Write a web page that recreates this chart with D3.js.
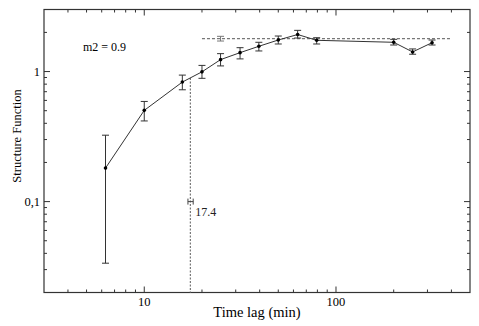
<!DOCTYPE html>
<html>
<head>
<meta charset="utf-8">
<script src="https://cdn.jsdelivr.net/npm/d3@7"></script>
<style>
  body { margin: 0; background: #fff; }
  svg { display: block; }
</style>
</head>
<body>
<div id="chart"></div>
<script>
// Structure function vs time lag (log-log)
const lags   = [6.28, 10, 15.8, 20, 25, 31.6, 39.6, 50, 63.1, 79.3, 200, 251, 317];
const sf     = [0.181, 0.503, 0.83, 0.995, 1.235, 1.397, 1.564, 1.748, 1.926, 1.739, 1.679, 1.415, 1.667];
const sfLow  = [0.0336, 0.417, 0.724, 0.887, 1.105, 1.251, 1.44, 1.629, 1.81, 1.629, 1.6, 1.359, 1.6];
const sfHigh = [0.324, 0.589, 0.939, 1.115, 1.373, 1.526, 1.679, 1.876, 2.074, 1.82, 1.769, 1.492, 1.748];

// plateau level and break point
const plateau = { x: 25, y: 1.789, lo: 1.717, hi: 1.866, from: 20, to: 400 };
const breakLag = { x: 17.4, lo: 16.9, hi: 18.0, labelY: 0.1 };
const slopeText = "m2 = 0.9";

const xTicksMajor = [10, 100];
const xTicksMinor = [4, 5, 6, 7, 8, 9, 20, 30, 40, 50, 60, 70, 80, 90, 200, 300, 400];
const yTicksMajor = [0.1, 1];
const yTicksMinor = [0.03, 0.04, 0.05, 0.06, 0.07, 0.08, 0.09, 0.2, 0.3, 0.4, 0.5, 0.6, 0.7, 0.8, 0.9, 2];

const W = 479, H = 326;
const M = { left: 44, right: 9, top: 9.5, bottom: 33.5 };
const SERIF = '"Liberation Serif"';

const svg = d3.select('#chart').append('svg')
    .attr('width', W)
    .attr('height', H);

const x = d3.scaleLog().domain([3, 500]).range([M.left, W - M.right]);
const y = d3.scaleLog().domain([0.02, 3]).range([H - M.bottom, M.top]);

const x0 = M.left, x1 = W - M.right, y0 = H - M.bottom, y1 = M.top;
const axisColor = '#333';

// frame
svg.append('rect')
    .attr('x', x0).attr('y', y1)
    .attr('width', x1 - x0).attr('height', y0 - y1)
    .attr('fill', 'none')
    .attr('stroke', axisColor)
    .attr('stroke-width', 1.2);

// inward ticks on all four sides
function xTicks(vals, len) {
    vals.forEach(v => {
        svg.append('line').attr('x1', x(v)).attr('x2', x(v)).attr('y1', y0).attr('y2', y0 - len)
            .attr('stroke', axisColor);
        svg.append('line').attr('x1', x(v)).attr('x2', x(v)).attr('y1', y1).attr('y2', y1 + len)
            .attr('stroke', axisColor);
    });
}
function yTicks(vals, len) {
    vals.forEach(v => {
        svg.append('line').attr('x1', x0).attr('x2', x0 + len).attr('y1', y(v)).attr('y2', y(v))
            .attr('stroke', axisColor);
        svg.append('line').attr('x1', x1).attr('x2', x1 - len).attr('y1', y(v)).attr('y2', y(v))
            .attr('stroke', axisColor);
    });
}
xTicks(xTicksMajor, 6);
xTicks(xTicksMinor, 3);
yTicks(yTicksMajor, 6);
yTicks(yTicksMinor, 3);

// tick labels
svg.append('g').selectAll('text')
    .data(xTicksMajor)
    .enter().append('text')
    .attr('x', d => x(d))
    .attr('y', y0 + 13)
    .attr('text-anchor', 'middle')
    .style('font-family', SERIF)
    .style('font-size', '12.5px')
    .text(d => d);

svg.append('g').selectAll('text')
    .data(yTicksMajor)
    .enter().append('text')
    .attr('x', x0 - 4)
    .attr('y', d => y(d) + 4)
    .attr('text-anchor', 'end')
    .style('font-family', SERIF)
    .style('font-size', '12.5px')
    .text(d => d === 1 ? '1' : '0,1');

// axis titles
svg.append('text')
    .attr('x', 257)
    .attr('y', 317)
    .attr('text-anchor', 'middle')
    .style('font-family', SERIF)
    .style('font-size', '14.5px')
    .text('Time lag (min)');

svg.append('text')
    .attr('transform', `translate(21,136) rotate(-90)`)
    .attr('text-anchor', 'middle')
    .style('font-family', SERIF)
    .style('font-size', '12.5px')
    .text('Structure Function');

// slope annotation
svg.append('text')
    .attr('x', 83)
    .attr('y', 51)
    .style('font-family', SERIF)
    .style('font-size', '12px')
    .text(slopeText);

// dashed guides
const dashColor = '#777';
// vertical at break lag, from the curve down to the axis
const i = d3.bisectLeft(lags, breakLag.x);
const t = (Math.log(breakLag.x) - Math.log(lags[i - 1])) / (Math.log(lags[i]) - Math.log(lags[i - 1]));
const yBreak = Math.exp(Math.log(sf[i - 1]) + t * (Math.log(sf[i]) - Math.log(sf[i - 1])));
svg.append('line')
    .attr('x1', x(breakLag.x)).attr('x2', x(breakLag.x))
    .attr('y1', y(yBreak)).attr('y2', y0)
    .attr('stroke', dashColor)
    .attr('stroke-width', 1.2)
    .attr('stroke-dasharray', '2,1.5');

// horizontal plateau
svg.append('line')
    .attr('x1', x(plateau.from)).attr('x2', x(plateau.to))
    .attr('y1', y(plateau.y)).attr('y2', y(plateau.y))
    .attr('stroke', dashColor)
    .attr('stroke-width', 1.2)
    .attr('stroke-dasharray', '3,2');

// plateau error bar
const capW = 3.5;
const pg = svg.append('g').attr('stroke', '#777');
pg.append('line').attr('x1', x(plateau.x)).attr('x2', x(plateau.x))
    .attr('y1', y(plateau.lo)).attr('y2', y(plateau.hi));
[plateau.lo, plateau.hi].forEach(v => {
    pg.append('line').attr('x1', x(plateau.x) - capW).attr('x2', x(plateau.x) + capW)
        .attr('y1', y(v)).attr('y2', y(v));
});

// horizontal error bar for break lag
const bg = svg.append('g').attr('stroke', '#444');
bg.append('line').attr('x1', x(breakLag.lo)).attr('x2', x(breakLag.hi))
    .attr('y1', y(breakLag.labelY)).attr('y2', y(breakLag.labelY));
[breakLag.lo, breakLag.hi].forEach(v => {
    bg.append('line').attr('x1', x(v)).attr('x2', x(v))
        .attr('y1', y(breakLag.labelY) - 3).attr('y2', y(breakLag.labelY) + 3);
});
svg.append('text')
    .attr('x', x(breakLag.hi) + 2)
    .attr('y', y(breakLag.labelY) + 14)
    .style('font-family', SERIF)
    .style('font-size', '12px')
    .style('fill', '#222')
    .text(breakLag.x);

// data
const data = lags.map((d, k) => ({ x: d, y: sf[k], lo: sfLow[k], hi: sfHigh[k] }));

svg.append('path')
    .datum(data)
    .attr('fill', 'none')
    .attr('stroke', '#333')
    .attr('stroke-width', 1)
    .attr('d', d3.line().x(d => x(d.x)).y(d => y(d.y)));

const eb = svg.append('g').attr('stroke', '#333').attr('stroke-width', 1);
data.forEach(d => {
    eb.append('line').attr('x1', x(d.x)).attr('x2', x(d.x)).attr('y1', y(d.lo)).attr('y2', y(d.hi));
    eb.append('line').attr('x1', x(d.x) - capW).attr('x2', x(d.x) + capW).attr('y1', y(d.lo)).attr('y2', y(d.lo));
    eb.append('line').attr('x1', x(d.x) - capW).attr('x2', x(d.x) + capW).attr('y1', y(d.hi)).attr('y2', y(d.hi));
});

svg.append('g').selectAll('circle')
    .data(data)
    .enter().append('circle')
    .attr('cx', d => x(d.x))
    .attr('cy', d => y(d.y))
    .attr('r', 1.8)
    .attr('fill', '#000');
</script>
</body>
</html>
